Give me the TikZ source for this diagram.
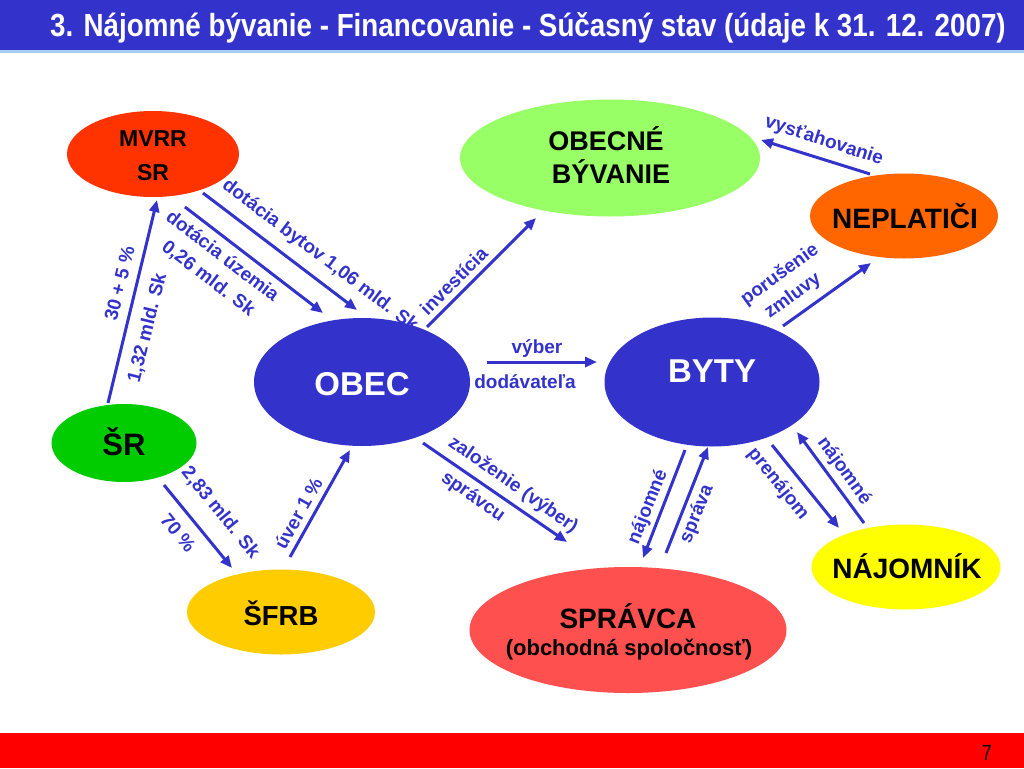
\documentclass[tikz,border=0pt]{standalone}
\usepackage{fontspec}
\setmainfont{Liberation Sans}
\newfontfamily\narrowbold[FakeStretch=0.868]{Liberation Sans Bold}
\newfontfamily\narrowreg[FakeStretch=0.82]{Liberation Sans}
\usetikzlibrary{shapes.geometric,arrows.meta}
\definecolor{hblue}{HTML}{3333CC}
\definecolor{hline}{HTML}{AACCF0}
\definecolor{cmvrr}{HTML}{FF3300}
\definecolor{csr}{HTML}{00CC00}
\definecolor{csfrb}{HTML}{FFCC00}
\definecolor{cobecne}{HTML}{99FF66}
\definecolor{cneplat}{HTML}{FF6600}
\definecolor{cspravca}{HTML}{FF5050}
\definecolor{cnajom}{HTML}{FFFF00}
\definecolor{cfoot}{HTML}{FF0000}
\begin{document}
\begin{tikzpicture}[x=1pt,y=-1pt,
  blob/.style={ellipse,draw=none,inner sep=0pt},
  ntext/.style={font=\fontsize{#1pt}{#1pt}\selectfont\bfseries,inner sep=0pt,anchor=base},
  lab/.style={font=\fontsize{19pt}{19pt}\selectfont\bfseries,text=hblue,inner sep=0pt,
    text height=14pt,text depth=4pt,anchor=center},
  arr/.style={draw=hblue,line width=3pt,-{Triangle[length=12pt,width=10pt]}}]
\useasboundingbox (0,0) rectangle (1024,768);
% header and footer
\fill[hblue] (0,0) rectangle (1024,50);
\fill[hline] (0,50) rectangle (1024,53);
\node[font=\narrowbold\fontsize{32pt}{32pt}\selectfont,text=white,anchor=base west,inner sep=0pt] (title) at (50,37)
  {3. Nájomné bývanie - Financovanie - Súčasný stav (údaje k 31. 12. 2007)};
\fill[cfoot] (0,733) rectangle (1024,768);
\node[font=\narrowreg\fontsize{22pt}{22pt}\selectfont,anchor=base,inner sep=0pt] (pnum) at (987,760) {7};

% arrow end points
\coordinate (a1s) at (108,403); \coordinate (a1e) at (157,200);
\coordinate (a2s) at (185,207); \coordinate (a2e) at (323,313);
\coordinate (a3s) at (203,193); \coordinate (a3e) at (357,310);
\coordinate (a4s) at (427,327); \coordinate (a4e) at (536,218);
\coordinate (a5s) at (487,362); \coordinate (a5e) at (597,362);
\coordinate (a6s) at (870,174); \coordinate (a6e) at (761,140);
\coordinate (a7s) at (783,326); \coordinate (a7e) at (871,263);
\coordinate (a8s) at (423,443); \coordinate (a8e) at (567,542);
\coordinate (a9s) at (685,450); \coordinate (a9e) at (643,558);
\coordinate (a10s) at (666,553); \coordinate (a10e) at (708,447);
\coordinate (a11s) at (772,445); \coordinate (a11e) at (839,528);
\coordinate (a12s) at (864,523); \coordinate (a12e) at (797,432);
\coordinate (a13s) at (164,485); \coordinate (a13e) at (232,568);
\coordinate (a14s) at (290,557); \coordinate (a14e) at (350,450);

% labels
\node[lab,rotate=76] (l1) at (121,284) {30 + 5 \%};
\node[lab,rotate=76] (l2) at (148,328) {1,32 mld. Sk};
\node[lab,rotate=-37.5] (l3) at (222,257) {dotácia územia};
\node[lab,rotate=-37.5] (l4) at (208,279) {0,26 mld. Sk};
\node[lab,rotate=-37] (l5) at (320,256) {dotácia bytov 1,06 mld. Sk};
\node[lab,rotate=45] (l6) at (455,282) {investícia};
\node[lab] (l7) at (537,348) {výber};
\node[lab] (l8) at (525,383) {dodávateľa};
\node[lab,rotate=-18] (l9) at (824,141) {vysťahovanie};
\node[lab,rotate=36] (l10) at (780,275) {porušenie};
\node[lab,rotate=36] (l11) at (793,296) {zmluvy};
\node[lab,rotate=-35] (l12) at (513,485) {založenie (výber)};
\node[lab,rotate=-35] (l13) at (473,497) {správcu};
\node[lab,rotate=68] (l14) at (648,507) {nájomné};
\node[lab,rotate=68] (l15) at (697,514) {správa};
\node[lab,rotate=-51] (l16) at (778,484) {prenájom};
\node[lab,rotate=-54] (l17) at (844,471) {nájomné};
\node[lab,rotate=-50.7] (l18) at (220,513) {2,83 mld. Sk};
\node[lab,rotate=-50.7] (l19) at (177,534) {70 \%};
\node[lab,rotate=60.7] (l20) at (300,514) {úver 1 \%};

% arrows
\foreach \i in {1,...,14} { \draw[arr] (a\i s) -- (a\i e); }

% ellipses
\node[blob,fill=cmvrr,minimum width=172pt,minimum height=86pt] (mvrr) at (153,154) {};
\node[blob,fill=hblue,minimum width=216pt,minimum height=128pt] (obec) at (362,382) {};
\node[blob,fill=csr,minimum width=145pt,minimum height=78pt] (sr) at (124,443) {};
\node[blob,fill=csfrb,minimum width=188pt,minimum height=85pt] (sfrb) at (281,612) {};
\node[blob,fill=cobecne,minimum width=300pt,minimum height=117pt] (obecne) at (610,158) {};
\node[blob,fill=cneplat,minimum width=188pt,minimum height=85pt] (neplat) at (904,216) {};
\node[blob,fill=hblue,minimum width=215pt,minimum height=129pt] (byty) at (712,382) {};
\node[blob,fill=cspravca,minimum width=317pt,minimum height=126pt] (spravca) at (628,630) {};
\node[blob,fill=cnajom,minimum width=189pt,minimum height=85pt] (najom) at (906,567) {};

% node texts
\node[ntext=23] (mvrrA) at (153,146) {MVRR};
\node[ntext=23] (mvrrB) at (153,180) {SR};
\node[ntext=33,text=white] (obecT) at (362,395) {OBEC};
\node[ntext=33,text=white] (bytyT) at (712,382) {BYTY};
\node[ntext=31] (srT) at (124,455) {ŠR};
\node[ntext=27.5] (sfrbT) at (281,625) {ŠFRB};
\node[ntext=27] (obecneA) at (606,150) {OBECNÉ};
\node[ntext=27] (obecneB) at (611,183) {BÝVANIE};
\node[ntext=28] (neplatT) at (905,228) {NEPLATIČI};
\node[ntext=28] (najomT) at (907,578) {NÁJOMNÍK};
\node[ntext=28] (spravcaA) at (628,628) {SPRÁVCA};
\node[ntext=22] (spravcaB) at (629,655) {(obchodná spoločnosť)};
\end{tikzpicture}
\end{document}
